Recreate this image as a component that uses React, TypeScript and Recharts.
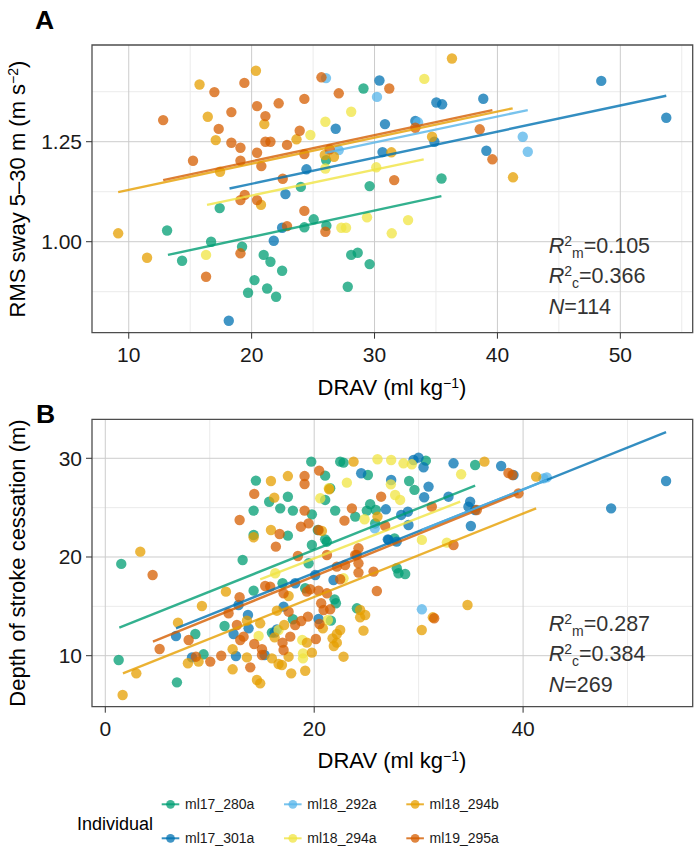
import { CartesianGrid, ReferenceArea, Scatter, ScatterChart, XAxis, YAxis } from "recharts";

type Pt = [number, number];

const FONT = "'Liberation Sans', Arial, Helvetica, sans-serif";

const individuals = ["ml17_280a", "ml17_301a", "ml18_292a", "ml18_294a", "ml18_294b", "ml19_295a"];
const colors = ["#009E73", "#0072B2", "#56B4E9", "#F0E442", "#E69F00", "#D55E00"];

// Panel A: RMS sway vs DRAV
const a280: Pt[] = [
  [29.1, 1.383], [29.6, 1.139], [24.0, 1.137], [17.4, 1.084], [13.12, 1.028], [16.7, 1.0],
  [19.22, 0.9875], [14.34, 0.9525], [20.98, 0.967], [21.53, 0.95], [22.48, 0.9275], [20.23, 0.904],
  [21.26, 0.883], [19.71, 0.8725], [21.99, 0.8625], [24.29, 1.036], [25.05, 1.056], [26.08, 1.04],
  [26.06, 1.204], [28.1, 0.967], [28.63, 0.9725], [29.6, 0.944], [27.82, 0.8875], [35.45, 1.158],
];
const a301: Pt[] = [
  [30.4, 1.403], [30.85, 1.294], [30.65, 1.224], [26.84, 1.2825], [24.46, 1.181], [22.75, 1.119],
  [21.8, 1.0025], [22.48, 1.035], [18.14, 0.8025], [35.03, 1.348], [35.5, 1.3435], [38.85, 1.3575],
  [33.32, 1.302], [34.87, 1.25], [39.1, 1.2275], [48.45, 1.402], [53.74, 1.31],
];
const a292: Pt[] = [
  [26.05, 1.409], [30.2, 1.362], [33.54, 1.2985], [42.06, 1.2625], [42.47, 1.225], [27.09, 1.229],
];
const a294a: Pt[] = [
  [26.0, 1.3], [28.1, 1.325], [24.78, 1.2667], [26.0, 1.183], [30.14, 1.186], [29.39, 1.061],
  [27.3, 1.035], [27.68, 1.035], [16.29, 0.967], [31.4, 1.021], [34.05, 1.407], [32.73, 1.054],
];
const a294b: Pt[] = [
  [20.35, 1.4275], [15.76, 1.393], [16.43, 1.3125], [17.08, 1.254], [21.03, 1.294], [17.43, 1.175],
  [23.65, 1.256], [25.95, 1.2167], [26.7, 1.2125], [20.76, 1.0925], [9.14, 1.021], [11.49, 0.96],
  [36.3, 1.458], [31.37, 1.2235], [34.68, 1.2625], [41.27, 1.161],
];
const a295: Pt[] = [
  [12.8, 1.304], [16.97, 1.374], [19.41, 1.397], [15.23, 1.2025], [17.32, 1.282], [18.35, 1.324],
  [18.35, 1.2475], [19.09, 1.235], [19.09, 1.2025], [20.44, 1.339], [21.12, 1.314], [20.44, 1.2225],
  [21.12, 1.25], [21.53, 1.25], [20.79, 1.189], [22.2, 1.346], [22.88, 1.242], [22.53, 1.1575],
  [23.91, 1.2775], [24.29, 1.357], [24.29, 1.219], [19.09, 1.104], [19.44, 1.117], [20.44, 1.104],
  [24.29, 1.077], [22.88, 1.039], [26.0, 1.025], [25.68, 1.411], [27.09, 1.371], [31.2, 1.383],
  [19.09, 0.971], [16.29, 0.9125], [26.35, 1.231], [33.32, 1.285], [38.56, 1.281], [39.59, 1.206],
  [31.6, 1.154],
];

// fitted lines, panel A (start, end)
const fitA280: Pt[] = [[13.19, 0.967], [35.44, 1.114]];
const fitA301: Pt[] = [[18.2, 1.133], [53.74, 1.365]];
const fitA292: Pt[] = [[26.0, 1.222], [42.47, 1.329]];
const fitA294a: Pt[] = [[16.37, 1.092], [34.0, 1.206]];
const fitA294b: Pt[] = [[9.14, 1.124], [41.24, 1.3335]];
const fitA295: Pt[] = [[12.8, 1.154], [39.59, 1.329]];

// Panel B: depth of stroke cessation vs DRAV
const b280: Pt[] = [
  [19.72, 29.66], [22.49, 29.66], [22.81, 29.56], [14.42, 27.74], [21.05, 28.24], [15.69, 25.6],
  [17.48, 26.1], [14.2, 24.7], [16.75, 24.93], [17.96, 24.7], [21.53, 26.96], [21.05, 25.78],
  [19.78, 24.32], [22.01, 24.7], [23.93, 24.09], [25.14, 28.31], [25.36, 25.34], [25.04, 24.7],
  [25.9, 24.76], [14.2, 22.23], [17.48, 22.16], [20.35, 22.74], [19.78, 21.22], [21.05, 21.79],
  [21.21, 21.55], [29.09, 27.7], [29.6, 26.8], [13.15, 19.7], [1.53, 19.3], [27.69, 21.89],
  [25.84, 23.4], [30.69, 29.76], [35.41, 29.32], [1.28, 9.56], [6.86, 7.3], [8.62, 12.2],
  [9.41, 10.14], [11.42, 13.01], [14.2, 16.59], [16.97, 17.34], [19.14, 16.83], [19.46, 19.36],
  [17.96, 13.69], [21.6, 13.55], [21.95, 15.71], [22.08, 15.31], [24.09, 14.8], [15.95, 12.34],
  [27.91, 18.86], [28.07, 18.35], [28.71, 18.28],
];
const b301: Pt[] = [
  [29.51, 29.83], [29.99, 30.07], [24.5, 28.48], [27.37, 27.8], [26.86, 24.83], [28.33, 24.26],
  [29.03, 23.24], [27.05, 21.79], [30.47, 29.09], [33.34, 29.49], [37.9, 29.22], [39.08, 28.31],
  [30.95, 27.13], [30.53, 26.05], [32.86, 26.11], [34.93, 25.6], [34.77, 25.1], [35.41, 24.76],
  [28.97, 24.59], [35.0, 23.14], [48.43, 24.93], [53.69, 27.7], [6.77, 12.0], [8.3, 9.83],
  [12.51, 9.97], [12.28, 12.2], [13.66, 14.13], [12.76, 15.14], [13.72, 12.77], [16.43, 12.67],
  [16.21, 12.34], [17.07, 14.97], [18.18, 17.34], [21.85, 17.67], [20.1, 18.18], [15.25, 10.07],
  [20.42, 13.72], [27.12, 21.73], [27.9, 21.56],
];
const b292: Pt[] = [[42.27, 28.07], [41.95, 27.97], [30.31, 14.7], [25.8, 22.9]];
const b294a: Pt[] = [
  [26.06, 29.9], [27.37, 29.83], [28.55, 29.49], [29.35, 29.39], [23.13, 27.53], [27.34, 27.36],
  [27.75, 26.28], [28.23, 25.78], [20.58, 25.95], [24.82, 23.82], [34.07, 28.38], [21.4, 26.96],
  [14.68, 12.0], [18.86, 11.59], [18.93, 10.24], [18.93, 9.73], [16.27, 18.35], [16.59, 12.6],
  [21.31, 13.62], [22.81, 17.84], [30.31, 21.73], [32.7, 21.46],
];
const b294b: Pt[] = [
  [15.86, 27.7], [17.48, 28.2], [23.77, 29.66], [16.18, 26.01], [15.86, 22.74], [14.2, 22.0],
  [3.35, 20.54], [21.44, 26.86], [20.74, 22.64], [26.06, 24.09], [36.3, 29.66], [41.25, 28.14],
  [1.66, 6.02], [2.97, 8.21], [6.96, 13.35], [9.25, 15.04], [11.55, 16.49], [7.91, 9.23],
  [8.93, 9.4], [12.19, 10.65], [12.19, 8.62], [13.56, 9.83], [14.52, 7.54], [14.83, 7.2],
  [15.95, 9.73], [16.59, 9.16], [16.91, 9.06], [17.55, 9.9], [17.8, 8.21], [19.14, 8.48],
  [19.78, 10.31], [16.21, 11.86], [16.43, 14.56], [14.83, 13.28], [13.56, 13.55], [17.13, 13.11],
  [19.3, 11.32], [21.76, 11.76], [22.17, 12.2], [22.49, 12.6], [21.88, 10.98], [22.17, 11.32],
  [22.81, 9.9], [24.72, 12.54], [24.4, 14.63], [24.4, 13.89], [24.88, 14.12], [20.83, 12.77],
  [30.3, 12.6], [17.55, 16.05], [31.36, 13.89], [34.68, 15.14],
];
const b295: Pt[] = [
  [12.86, 23.75], [14.26, 26.39], [19.08, 28.2], [19.08, 27.4], [20.48, 28.75], [19.08, 24.7],
  [19.46, 23.41], [18.73, 23.07], [20.42, 22.74], [16.69, 22.33], [16.33, 21.05], [23.61, 24.93],
  [22.9, 23.68], [26.41, 26.11], [26.8, 23.14], [18.44, 20.1], [21.22, 20.2], [24.24, 20.88],
  [24.08, 20.2], [38.6, 28.51], [38.98, 28.31], [39.56, 26.45], [31.26, 25.1], [35.57, 24.76],
  [4.53, 18.18], [5.2, 10.68], [7.98, 11.59], [8.68, 9.9], [10.05, 9.4], [11.1, 10.0],
  [11.8, 14.3], [12.86, 15.92], [12.6, 13.11], [12.92, 11.59], [13.24, 11.93], [14.26, 11.19],
  [15.0, 10.65], [15.0, 10.07], [13.88, 8.82], [15.31, 17.06], [15.79, 17.0], [17.07, 16.32],
  [16.97, 11.32], [17.07, 10.58], [17.71, 11.93], [18.18, 13.11], [18.76, 13.52], [19.4, 13.96],
  [17.55, 14.46], [19.3, 16.49], [19.62, 16.73], [20.42, 16.59], [21.22, 16.32], [20.67, 15.31],
  [20.9, 14.63], [21.53, 14.7], [20.16, 11.69], [22.17, 19.02], [22.49, 17.74], [22.96, 19.19],
  [24.24, 19.36], [24.24, 18.42], [25.68, 18.52], [26.0, 16.56], [20.51, 13.21], [33.34, 21.22],
  [23.93, 20.21], [31.49, 13.79],
];

const fitB280: Pt[] = [[1.34, 12.84], [35.41, 27.23]];
const fitB301: Pt[] = [[6.77, 12.77], [53.69, 32.64]];
const fitB292: Pt[] = [[30.31, 22.74], [42.27, 27.8]];
const fitB294a: Pt[] = [[14.83, 17.74], [33.98, 25.6]];
const fitB294b: Pt[] = [[1.69, 8.21], [41.25, 24.93]];
const fitB295: Pt[] = [[4.56, 11.42], [39.56, 26.45]];

const pointsA = [a280, a301, a292, a294a, a294b, a295];
const fitsA = [fitA280, fitA301, fitA292, fitA294a, fitA294b, fitA295];
const pointsB = [b280, b301, b292, b294a, b294b, b295];
const fitsB = [fitB280, fitB301, fitB292, fitB294a, fitB294b, fitB295];

const toXY = (pts: Pt[]) => pts.map(([x, y]) => ({ x, y }));

interface PanelProps {
  top: number;
  height: number;
  plotTop: number;
  plotBottom: number;
  xDomain: [number, number];
  yDomain: [number, number];
  xTicks: number[];
  yTicks: number[];
  xMinor: number[];
  yMinor: number[];
  yFormat?: (v: number) => string;
  points: Pt[][];
  fits: Pt[][];
}

const tickStyle = { fontSize: 21, fill: "#1a1a1a", fontFamily: FONT };

function Panel(p: PanelProps) {
  return (
    <div style={{ position: "absolute", left: 0, top: p.top }}>
      <ScatterChart
        width={694}
        height={p.height}
        margin={{ top: p.plotTop, right: 1.3, bottom: 0, left: 0 }}
      >
        <CartesianGrid stroke="#ebebeb" verticalValues={p.xMinor} horizontalValues={p.yMinor} />
        <CartesianGrid stroke="#cccccc" verticalValues={p.xTicks} horizontalValues={p.yTicks} />
        <XAxis
          type="number"
          dataKey="x"
          domain={p.xDomain}
          ticks={p.xTicks}
          allowDataOverflow
          axisLine={false}
          tickSize={6}
          tickMargin={8}
          tickLine={{ stroke: "#333333" }}
          tick={tickStyle}
          height={p.height - p.plotBottom}
        />
        <YAxis
          type="number"
          dataKey="y"
          domain={p.yDomain}
          ticks={p.yTicks}
          allowDataOverflow
          axisLine={false}
          tickSize={6}
          tickMargin={4}
          tickLine={{ stroke: "#333333" }}
          tick={tickStyle}
          tickFormatter={p.yFormat}
          width={92}
        />
        {p.points.map((pts, i) => (
          <Scatter
            key={"p" + i}
            data={toXY(pts)}
            isAnimationActive={false}
            shape={(s: any) => (
              <circle cx={s.cx} cy={s.cy} r={5.2} fill={colors[i]} fillOpacity={0.75} />
            )}
          />
        ))}
        {p.fits.map((pts, i) => (
          <Scatter
            key={"f" + i}
            data={toXY(pts)}
            isAnimationActive={false}
            line={{ stroke: colors[i], strokeWidth: 2.4, strokeOpacity: 0.8 }}
            stroke={colors[i]}
            shape={() => <g />}
          />
        ))}
        <ReferenceArea
          x1={p.xDomain[0]}
          x2={p.xDomain[1]}
          y1={p.yDomain[0]}
          y2={p.yDomain[1]}
          fill="none"
          stroke="#4d4d4d"
          strokeWidth={1.3}
          ifOverflow="visible"
        />
      </ScatterChart>
    </div>
  );
}

function Stats({ x, y, r2m, r2c, n }: { x: number; y: number; r2m: string; r2c: string; n: number }) {
  const fs = 21.5;
  const line = (dyBase: number, sub: string, val: string) => (
    <text x={x} y={y + dyBase} fontSize={fs}>
      <tspan fontStyle="italic">R</tspan>
      <tspan dy={-7} fontSize={14}>2</tspan>
      <tspan dy={12} fontSize={14}>{sub}</tspan>
      <tspan dy={-5}>={val}</tspan>
    </text>
  );
  return (
    <g fill="#333333" fontFamily={FONT}>
      {line(0, "m", r2m)}
      {line(30, "c", r2c)}
      <text x={x} y={y + 60.7} fontSize={fs}>
        <tspan fontStyle="italic">N</tspan>={n}
      </text>
    </g>
  );
}

const legendCols = [161.7, 284, 406.3];
const legendRows = [804.3, 838.3];

export default function App() {
  return (
    <div style={{ position: "absolute", left: 0, top: 0, width: 694, height: 846, background: "#fff" }}>
      <Panel
        top={0}
        height={380}
        plotTop={45}
        plotBottom={332.7}
        xDomain={[7.01, 55.89]}
        yDomain={[0.7725, 1.4918]}
        xTicks={[10, 20, 30, 40, 50]}
        yTicks={[1.0, 1.25]}
        xMinor={[15, 25, 35, 45, 55]}
        yMinor={[0.875, 1.125, 1.375]}
        yFormat={(v) => v.toFixed(2)}
        points={pointsA}
        fits={fitsA}
      />
      <Panel
        top={380}
        height={380}
        plotTop={39.3}
        plotBottom={326.7}
        xDomain={[-1.273, 56.24]}
        yDomain={[4.833, 33.95]}
        xTicks={[0, 20, 40]}
        yTicks={[10, 20, 30]}
        xMinor={[10, 30, 50]}
        yMinor={[15, 25]}
        points={pointsB}
        fits={fitsB}
      />
      <svg
        width={694}
        height={846}
        style={{ position: "absolute", left: 0, top: 0, pointerEvents: "none" }}
        fontFamily={FONT}
      >
        <text x={35} y={29} fontSize={26.5} fontWeight="bold" fill="#000">A</text>
        <text x={36} y={422.7} fontSize={26.5} fontWeight="bold" fill="#000">B</text>

        <text x={392} y={395} fontSize={22} textAnchor="middle" fill="#000">
          DRAV (ml kg<tspan dy={-7} fontSize={14}>−1</tspan><tspan dy={7}>)</tspan>
        </text>
        <text x={392} y={768} fontSize={22} textAnchor="middle" fill="#000">
          DRAV (ml kg<tspan dy={-7} fontSize={14}>−1</tspan><tspan dy={7}>)</tspan>
        </text>
        <text transform="translate(24.5,189) rotate(-90)" fontSize={22} textAnchor="middle" fill="#000">
          RMS sway 5–30 m (m s<tspan dy={-7} fontSize={14}>−2</tspan><tspan dy={7}>)</tspan>
        </text>
        <text transform="translate(24.5,563) rotate(-90)" fontSize={22} textAnchor="middle" fill="#000">
          Depth of stroke cessation (m)
        </text>

        <Stats x={548.7} y={253.3} r2m="0.105" r2c="0.366" n={114} />
        <Stats x={548.7} y={631} r2m="0.287" r2c="0.384" n={269} />

        <text x={77} y={830} fontSize={18} fill="#000">Individual</text>
        {individuals.map((name, i) => {
          const cx = legendCols[Math.floor(i / 2)];
          const cy = legendRows[i % 2];
          return (
            <g key={name}>
              <line x1={cx} x2={cx + 17.6} y1={cy} y2={cy} stroke={colors[i]} strokeWidth={2} strokeOpacity={0.8} />
              <circle cx={cx + 8.8} cy={cy} r={4.4} fill={colors[i]} fillOpacity={0.75} />
              <text x={cx + 23.3} y={cy + 5} fontSize={14} fill="#1a1a1a">{name}</text>
            </g>
          );
        })}
      </svg>
    </div>
  );
}
